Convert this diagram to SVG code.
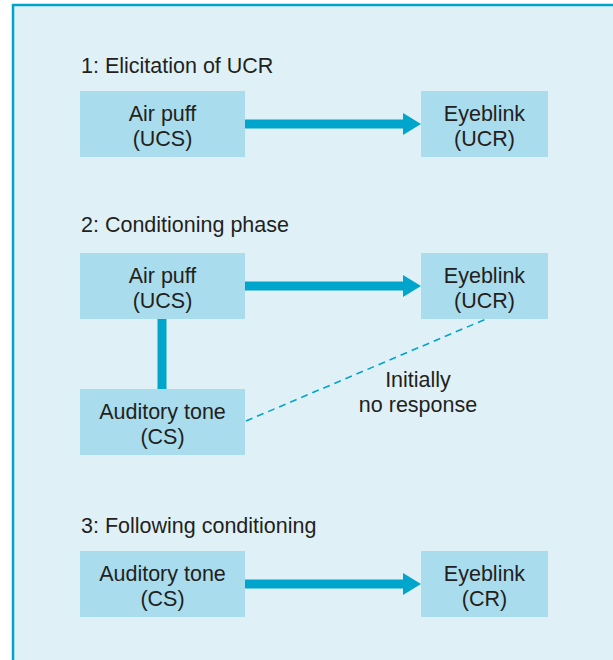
<svg xmlns="http://www.w3.org/2000/svg" width="613" height="660" viewBox="0 0 613 660">
  <style>
    .panel { fill: #dff1f6; stroke: #00a5cb; stroke-width: 2.5; }
    .box { fill: #a9dcec; }
    .txt { font-family: "Liberation Sans", Arial, sans-serif; font-size: 21.5px; fill: #231f20; }
    .mid { text-anchor: middle; }
    .link { stroke: #00a5cb; stroke-width: 9; fill: none; }
    .dash { stroke: #00a5cb; stroke-width: 1.6; fill: none; stroke-dasharray: 7 5; }
    .head { fill: #00a5cb; }
  </style>
  <rect width="613" height="660" fill="#ffffff"/>
  <rect class="panel" x="13" y="5" width="620" height="680"/>

  <!-- section headings -->
  <text class="txt" x="81" y="72.5">1: Elicitation of UCR</text>
  <text class="txt" x="81" y="231.5">2: Conditioning phase</text>
  <text class="txt" x="81" y="533">3: Following conditioning</text>

  <!-- connectors -->
  <g id="connectors">
    <line class="link" x1="245" y1="124" x2="404" y2="124"/>
    <polygon class="head" points="403,113 421,124 403,135"/>
    <line class="link" x1="245" y1="286" x2="404" y2="286"/>
    <polygon class="head" points="403,275 421,286 403,297"/>
    <line class="link" x1="162" y1="319" x2="162" y2="389"/>
    <line class="dash" x1="246" y1="421" x2="486" y2="319"/>
    <line class="link" x1="245" y1="584" x2="404" y2="584"/>
    <polygon class="head" points="403,573 421,584 403,595"/>
  </g>

  <g id="s1-airpuff">
    <rect class="box" x="80" y="91" width="165" height="66"/>
    <text class="txt mid" x="162.5" y="120.5">Air puff</text>
    <text class="txt mid" x="162.5" y="145.5">(UCS)</text>
  </g>
  <g id="s1-eyeblink">
    <rect class="box" x="421" y="91" width="127" height="66"/>
    <text class="txt mid" x="484.5" y="120.5">Eyeblink</text>
    <text class="txt mid" x="484.5" y="145.5">(UCR)</text>
  </g>

  <g id="s2-airpuff">
    <rect class="box" x="80" y="253" width="165" height="66"/>
    <text class="txt mid" x="162.5" y="282.5">Air puff</text>
    <text class="txt mid" x="162.5" y="307.5">(UCS)</text>
  </g>
  <g id="s2-eyeblink">
    <rect class="box" x="421" y="253" width="127" height="66"/>
    <text class="txt mid" x="484.5" y="282.5">Eyeblink</text>
    <text class="txt mid" x="484.5" y="307.5">(UCR)</text>
  </g>
  <g id="s2-tone">
    <rect class="box" x="80" y="389" width="165" height="66"/>
    <text class="txt mid" x="162.5" y="418.5">Auditory tone</text>
    <text class="txt mid" x="162.5" y="443.5">(CS)</text>
  </g>
  <g id="s2-note">
    <text class="txt mid" x="418" y="386.5">Initially</text>
    <text class="txt mid" x="418" y="411.5">no response</text>
  </g>

  <g id="s3-tone">
    <rect class="box" x="80" y="551" width="165" height="66"/>
    <text class="txt mid" x="162.5" y="580.5">Auditory tone</text>
    <text class="txt mid" x="162.5" y="605.5">(CS)</text>
  </g>
  <g id="s3-eyeblink">
    <rect class="box" x="421" y="551" width="127" height="66"/>
    <text class="txt mid" x="484.5" y="580.5">Eyeblink</text>
    <text class="txt mid" x="484.5" y="605.5">(CR)</text>
  </g>
</svg>
